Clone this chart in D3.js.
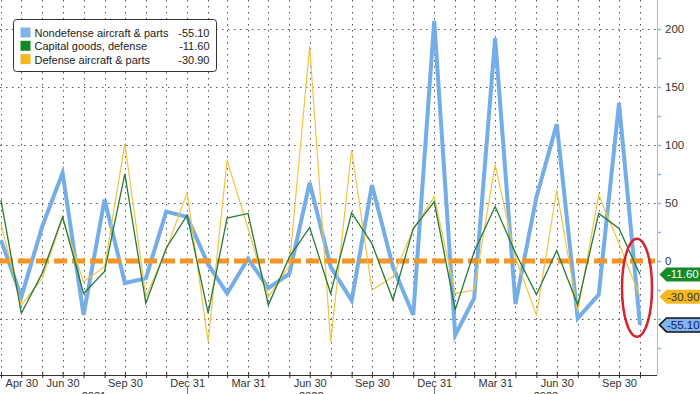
<!DOCTYPE html>
<html>
<head>
<meta charset="utf-8">
<script src="https://cdn.jsdelivr.net/npm/d3@7"></script>
<style>
  body { margin: 0; background: #fff; }
  svg { display: block; }
  text { font-family: "Liberation Sans", Arial, sans-serif; }
</style>
</head>
<body>
<div id="chart"></div>
<script>
// monthly change, one value per month end, Mar 2021 .. Oct 2023
var nondefense = [18, -31, 30, 76, -46.5, 53, -19, -15, 42.5, 38, -3, -28, 2, -23.5, -11, 67.5,
                  -5, -34, 65.5, -5, -46.5, 207, -64, -32, 192, -37, 55, 118, -49.5, -29, 136, -55.1];
var capitalDefense = [52.5, -45, -10.5, 38, -28, -9, 75, -36.5, 11, 39.5, -45, 37, 41, -38, 3.5, 29,
                      -28, 41.5, 15, -33.5, 28, 51, -42, 8, 47, 7, -29, 9, -38, 41, 28, -11.6];
var defenseAircraft = [32, -38, -15, 37, -18, -5, 101, -31, 9.5, 59, -69.5, 87, 28, -31, -4, 185,
                       -69.5, 95.7, -25, -13.5, 27, 55.5, -28, -25, 83, 3, -46.5, 61, -43.7, 57, 15, -30.9];

var seriesNames = ["Nondefense aircraft & parts", "Capital goods, defense", "Defense aircraft & parts"];
var lastValues = ["-55.10", "-11.60", "-30.90"];

var labelledDates = ["2021-04-30", "2021-06-30", "2021-09-30", "2021-12-31", "2022-03-31", "2022-06-30",
                     "2022-09-30", "2022-12-31", "2023-03-31", "2023-06-30", "2023-09-30"];
var yearLabels = [2021, 2022, 2023];
var yTicks = [-75, -50, -25, 0, 25, 50, 75, 100, 125, 150, 175, 200];
var yLabelled = [0, 50, 100, 150, 200];

var width = 700, height = 394;
var plotRight = 657, plotBottom = 375;

var svg = d3.select("#chart").append("svg")
    .attr("width", width)
    .attr("height", height);

// month end dates
var months = nondefense.map(function (d, i) {
    return d3.timeDay.offset(d3.timeMonth.offset(new Date(2021, 3, 1), i), -1);
});

var x = d3.scaleTime()
    .domain([months[0], months[months.length - 1]])
    .range([1, 640]);

var y = d3.scaleLinear()
    .domain([-98.3, 225])
    .range([plotBottom, 0]);

//grid
var grid = svg.append("g").attr("class", "grid");
grid.selectAll(".vgrid")
    .data(months)
    .join("line")
    .attr("x1", function (d) { return Math.round(x(d)) + 0.5; })
    .attr("x2", function (d) { return Math.round(x(d)) + 0.5; })
    .attr("y1", 0)
    .attr("y2", plotBottom)
    .attr("stroke", "#555")
    .attr("stroke-dasharray", "1.5,4.5");

grid.selectAll(".hgrid")
    .data([-50, 50, 100, 150, 200])
    .join("line")
    .attr("x1", 0)
    .attr("x2", plotRight)
    .attr("y1", function (d) { return Math.round(y(d)) + 0.5; })
    .attr("y2", function (d) { return Math.round(y(d)) + 0.5; })
    .attr("stroke", "#555")
    .attr("stroke-dasharray", "1.5,4.5");

// x axis
var fmtKey = d3.timeFormat("%Y-%m-%d");
var xAxis = svg.append("g")
    .attr("transform", "translate(0," + plotBottom + ")")
    .call(d3.axisBottom(x)
        .tickValues(months)
        .tickSize(3)
        .tickPadding(1)
        .tickFormat(function (d) {
            return labelledDates.indexOf(fmtKey(d)) >= 0 ? d3.timeFormat("%b %d")(d) : "";
        }));
xAxis.select(".domain").attr("d", "M0,0.5H" + plotRight).attr("stroke", "#333");
xAxis.selectAll(".tick line").attr("y1", -3).attr("stroke", "#333");
xAxis.selectAll(".tick text").attr("fill", "#333").style("font-size", "11px");

// year labels under the axis, centred on the visible part of each year
svg.selectAll(".year")
    .data(yearLabels)
    .join("text")
    .attr("class", "year")
    .attr("x", function (d) {
        var a = Math.max(x(new Date(d, 0, 1)), 0);
        var b = Math.min(x(new Date(d + 1, 0, 1)), plotRight);
        return (a + b) / 2;
    })
    .attr("y", 400)
    .attr("text-anchor", "middle")
    .attr("fill", "#333")
    .style("font-size", "11px")
    .text(function (d) { return d; });

svg.selectAll(".yearSep")
    .data([new Date(2021, 11, 31), new Date(2022, 11, 31)])
    .join("line")
    .attr("x1", function (d) { return Math.round(x(d)) + 0.5; })
    .attr("x2", function (d) { return Math.round(x(d)) + 0.5; })
    .attr("y1", 387)
    .attr("y2", height)
    .attr("stroke", "#777");

// right y axis
var yAxis = svg.append("g")
    .attr("transform", "translate(" + plotRight + ",0)")
    .call(d3.axisRight(y)
        .tickValues(yTicks)
        .tickSize(4)
        .tickPadding(4)
        .tickFormat(function (d) { return yLabelled.indexOf(d) >= 0 ? d : ""; }));
yAxis.select(".domain").attr("d", "M0.5,0V" + plotBottom).attr("stroke", "#9cc2e4");
yAxis.selectAll(".tick line").attr("stroke", "#8fb8e0").attr("stroke-width", 1.5);
yAxis.selectAll(".tick text").attr("fill", "#333").style("font-size", "11.5px");

// series lines
var line = d3.line()
    .x(function (d, i) { return x(months[i]); })
    .y(function (d) { return y(d); });

svg.append("path")
    .datum(nondefense)
    .attr("d", line)
    .attr("fill", "none")
    .attr("stroke", "#74ade7")
    .attr("stroke-width", 4)
    .attr("stroke-linejoin", "miter");

// zero line
svg.append("line")
    .attr("x1", 0)
    .attr("x2", 655)
    .attr("y1", y(0))
    .attr("y2", y(0))
    .attr("stroke", "#f39428")
    .attr("stroke-width", 5)
    .attr("stroke-dasharray", "13,5");

svg.append("path")
    .datum(defenseAircraft)
    .attr("d", line)
    .attr("fill", "none")
    .attr("stroke", "#f2c444")
    .attr("stroke-width", 1.2);

svg.append("path")
    .datum(capitalDefense)
    .attr("d", line)
    .attr("fill", "none")
    .attr("stroke", "#247a36")
    .attr("stroke-width", 1.3);

// value tags on the right axis
var tags = [
    { v: capitalDefense[capitalDefense.length - 1], t: lastValues[1], fill: "#178a2a", text: "#fff", stroke: "none" },
    { v: defenseAircraft[defenseAircraft.length - 1], t: lastValues[2], fill: "#f6b81f", text: "#333", stroke: "none" },
    { v: nondefense[nondefense.length - 1], t: lastValues[0], fill: "#80b4ea", text: "#14206a", stroke: "#111" }
];
var tagG = svg.selectAll(".tag")
    .data(tags)
    .join("g")
    .attr("class", "tag")
    .attr("transform", function (d) { return "translate(0," + y(d.v) + ")"; });
tagG.append("path")
    .attr("d", "M659.5,0L666.5,-7H701V7H666.5Z")
    .attr("fill", function (d) { return d.fill; })
    .attr("stroke", function (d) { return d.stroke; })
    .attr("stroke-width", 1.5);
tagG.append("text")
    .attr("x", 667)
    .attr("y", 4)
    .attr("fill", function (d) { return d.text; })
    .style("font-size", "11.5px")
    .text(function (d) { return d.t; });

// red circle round the latest readings
svg.append("ellipse")
    .attr("cx", x(months[months.length - 1]) - 3)
    .attr("cy", y(-23))
    .attr("rx", 15)
    .attr("ry", 49)
    .attr("fill", "none")
    .attr("stroke", "#d8232c")
    .attr("stroke-width", 2.5);

// legend
var legendColors = ["#7fb3ea", "#138a24", "#f6b61e"];
var legend = svg.append("g").attr("transform", "translate(13.5,19.5)");
legend.append("rect")
    .attr("width", 203)
    .attr("height", 52)
    .attr("rx", 3)
    .attr("fill", "#fff")
    .attr("stroke", "#333");
var rows = legend.selectAll(".row")
    .data(seriesNames)
    .join("g")
    .attr("transform", function (d, i) { return "translate(0," + (13.5 + i * 13.3) + ")"; });
rows.append("rect")
    .attr("x", 7)
    .attr("y", -5.5)
    .attr("width", 10)
    .attr("height", 10)
    .attr("fill", function (d, i) { return legendColors[i]; });
rows.append("text")
    .attr("x", 21)
    .attr("y", 4)
    .attr("fill", "#222")
    .style("font-size", "11px")
    .text(function (d) { return d; });
rows.append("text")
    .attr("x", 196)
    .attr("y", 4)
    .attr("text-anchor", "end")
    .attr("fill", "#222")
    .style("font-size", "11px")
    .text(function (d, i) { return lastValues[i]; });
</script>
</body>
</html>
